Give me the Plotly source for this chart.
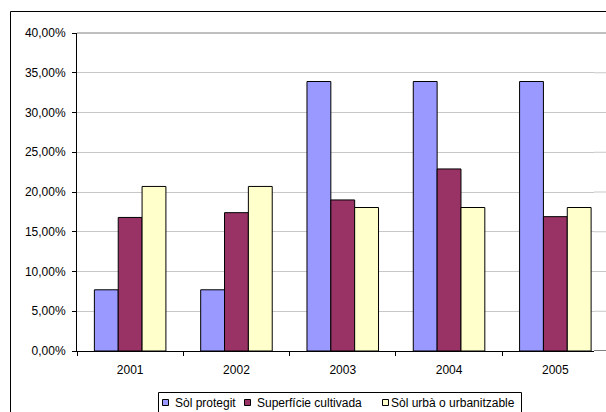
import plotly.graph_objects as go

years = ["2001", "2002", "2003", "2004", "2005"]
sol_protegit = [0.077, 0.077, 0.339, 0.339, 0.339]
superficie_cultivada = [0.168, 0.174, 0.190, 0.229, 0.169]
sol_urba = [0.207, 0.207, 0.1805, 0.1805, 0.1805]
series_names = ["Sòl protegit", "Superfície cultivada", "Sòl urbà o urbanitzable"]
series_colors = ["#9999FF", "#993366", "#FFFFCC"]
y_ticks = [0, 0.05, 0.10, 0.15, 0.20, 0.25, 0.30, 0.35, 0.40]

FONT = "Liberation Sans, Arial, sans-serif"
FS = 12

fig = go.Figure()
for name, vals, col in zip(series_names, [sol_protegit, superficie_cultivada, sol_urba], series_colors):
    fig.add_trace(go.Bar(
        x=years, y=vals, name=name,
        marker=dict(color=col, line=dict(color="#000000", width=1)),
        showlegend=False, hoverinfo="skip",
    ))

W, H = 606, 412
L, R, T, B = 77, 12, 33, 61
pw, ph = W - L - R, H - T - B

def fx(page_x):
    return (page_x - L) / pw

def fy(page_y):
    return (H - B - page_y) / ph

shapes = [
    # plot area top border and gridline continuation to the window edge
    dict(type="line", xref="paper", yref="paper", x0=0, x1=fx(640), y0=1, y1=1,
         line=dict(color="#808080", width=1)),
    # outer chart border (left and top)
    dict(type="line", xref="paper", yref="paper",
         x0=fx(10.5), x1=fx(10.5), y0=fy(11.5), y1=fy(440),
         line=dict(color="#000000", width=1)),
    dict(type="line", xref="paper", yref="paper",
         x0=fx(10.5), x1=fx(640), y0=fy(11.5), y1=fy(11.5),
         line=dict(color="#000000", width=1)),
    # legend box
    dict(type="rect", xref="paper", yref="paper",
         x0=fx(158.5), x1=fx(521.5), y0=fy(392.5), y1=fy(414.5),
         line=dict(color="#000000", width=1), fillcolor="white", layer="above"),
]
for v in y_ticks[1:-1]:
    shapes.append(dict(type="line", xref="paper", yref="y", x0=1, x1=fx(640), y0=v, y1=v,
                       line=dict(color="#C8C8C8", width=1), layer="below"))
shapes.append(dict(type="line", xref="paper", yref="y", x0=1, x1=fx(640), y0=0, y1=0,
                   line=dict(color="#000000", width=1)))

annotations = []
legend_square_x = [162.5, 244.5, 382.5]
legend_text_x = [173, 255, 389]
for name, col, sx, tx in zip(series_names, series_colors, legend_square_x, legend_text_x):
    shapes.append(dict(type="rect", xref="paper", yref="paper",
                       x0=fx(sx), x1=fx(sx + 6), y0=fy(399.5), y1=fy(405.5),
                       line=dict(color="#000000", width=1), fillcolor=col, layer="above"))
    annotations.append(dict(text=name, xref="paper", yref="paper",
                            x=fx(tx), y=fy(402.5), xanchor="left", yanchor="middle",
                            showarrow=False, font=dict(family=FONT, size=FS, color="#000000")))

fig.update_layout(
    width=W, height=H,
    margin=dict(l=L, r=R, t=T, b=B, pad=0),
    paper_bgcolor="white", plot_bgcolor="white",
    separators=",.",
    barmode="group", bargap=0.327, bargroupgap=0,
    font=dict(family=FONT, size=FS, color="#000000"),
    showlegend=False,
    hovermode=False,
    xaxis=dict(
        range=[-0.5, -0.5 + pw / 106.3], type="category",
        showline=True, linecolor="#000000", linewidth=1,
        ticks="outside", ticklen=4, tickcolor="#000000", tickson="boundaries",
        showgrid=False, zeroline=False, ticklabelstandoff=8,
        tickfont=dict(family=FONT, size=FS, color="#000000"),
    ),
    yaxis=dict(
        range=[0, 0.40], tickvals=y_ticks, tickformat=".2%",
        showline=True, linecolor="#000000", linewidth=1,
        ticks="outside", ticklen=4, tickcolor="#000000",
        showgrid=True, gridcolor="#C8C8C8", gridwidth=1,
        zeroline=False, ticklabelstandoff=4,
        tickfont=dict(family=FONT, size=FS, color="#000000"),
    ),
    shapes=shapes,
    annotations=annotations,
)

fig.write_html(
    "out.html",
    config={"displayModeBar": False, "staticPlot": True},
    post_script=(
        "document.body.style.margin='0';"
        "document.body.style.overflow='hidden';"
        "document.documentElement.style.overflow='hidden';"
    ),
)
